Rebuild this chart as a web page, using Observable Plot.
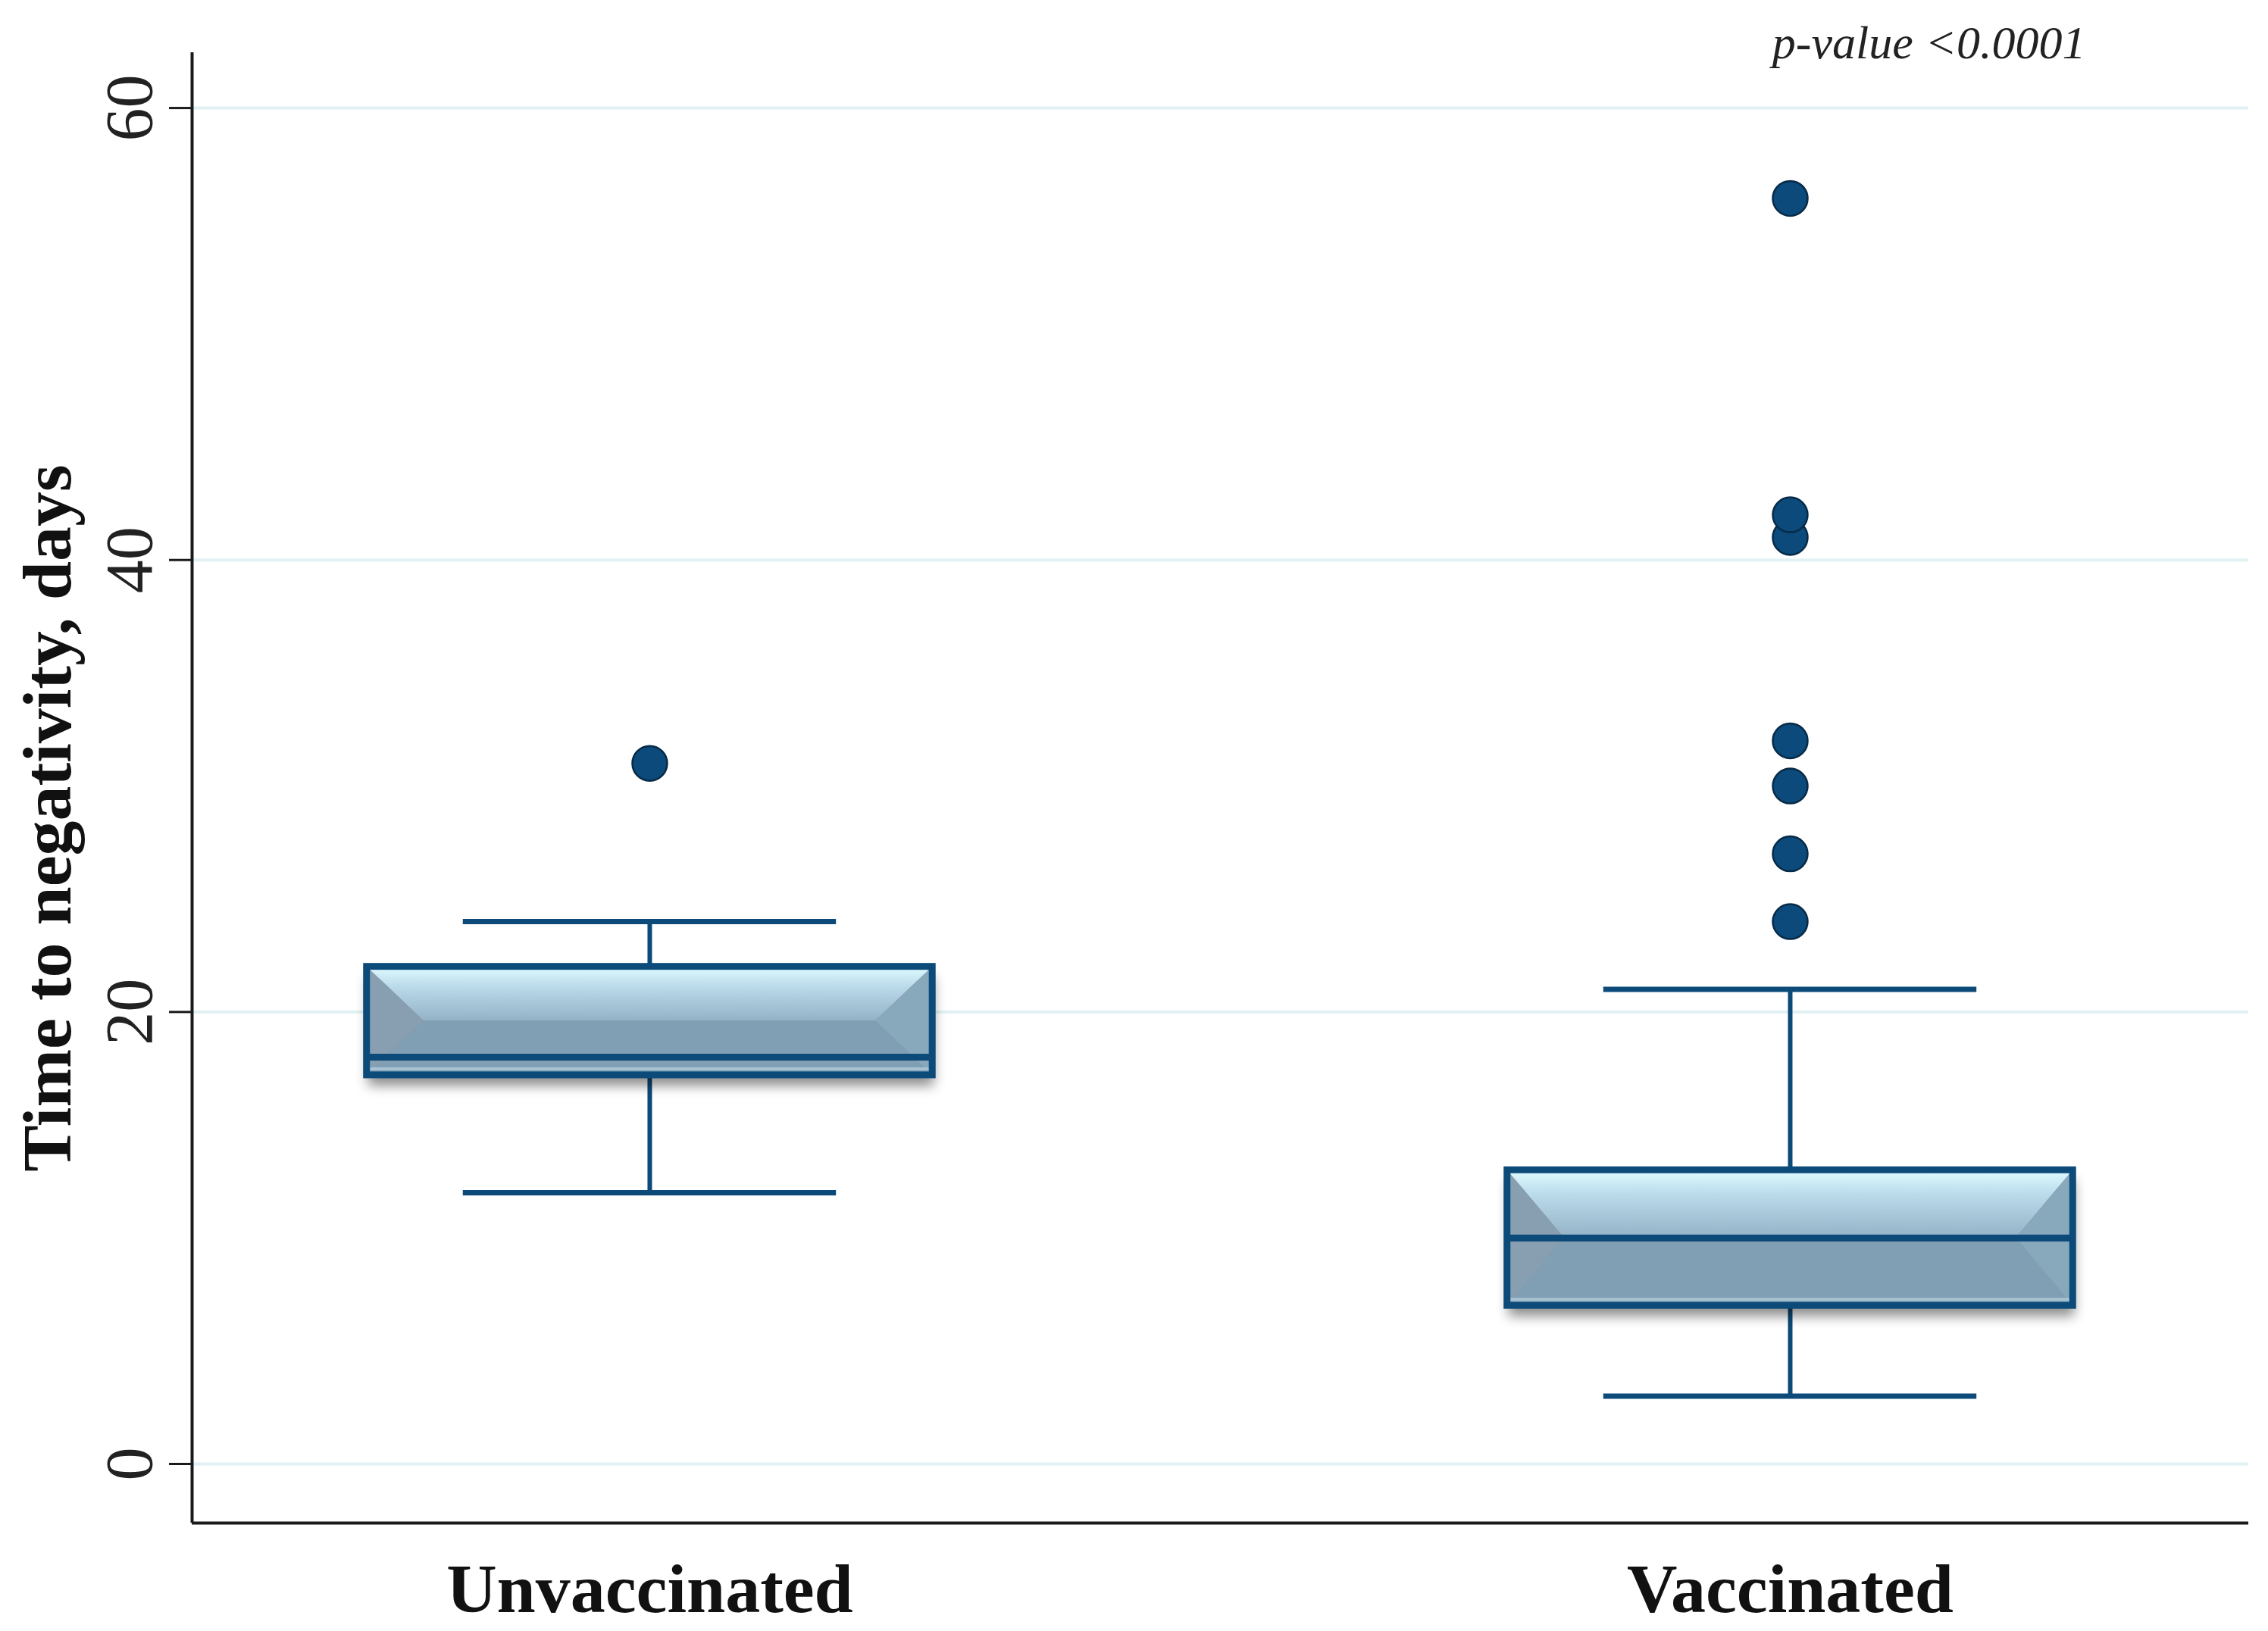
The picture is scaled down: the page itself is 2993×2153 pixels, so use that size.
<!DOCTYPE html>
<html>
<head>
<meta charset="utf-8">
<script src="https://cdn.jsdelivr.net/npm/d3@7"></script>
<script src="https://cdn.jsdelivr.net/npm/@observablehq/plot@0.6"></script>
<style>
  html, body { margin: 0; padding: 0; background: #ffffff; }
</style>
</head>
<body>
<div id="chart"></div>
<script>
// ---- data ----
const groups = ["Unvaccinated", "Vaccinated"];
const groupPos = [0, 1];
const lowerWhisker = [12, 3];
const q1 = [17.2, 7];
const median = [18, 10];
const q3 = [22, 13];
const upperWhisker = [24, 21];
const outlierGroup = [0, 1, 1, 1, 1, 1, 1, 1];
const outlierValue = [31, 24, 27, 30, 32, 41, 42, 56];
const yTicks = [0, 20, 40, 60];
const yLabel = "Time to negativity, days";
const pText = "p-value <0.0001";

// ---- layout / style constants ----
const W = 2993, H = 2153;
const xDomain = [-0.4013, 1.402];
const yDomain = [-2.615, 62.45];
const boxHalf = 0.248;
const capHalf = 0.1636;
const bevelInset = 75;
const dark = "#0c4a79";
const serif = "Liberation Serif, DejaVu Serif, serif";

const boxes = groups.map((g, i) => ({
  i: groupPos[i], lo: lowerWhisker[i], q1: q1[i], med: median[i], q3: q3[i], hi: upperWhisker[i]
}));
const outliers = outlierValue.map((v, k) => ({i: groupPos[outlierGroup[k]], v}));

// soft shadow + bevelled box faces, drawn through the plot's scales
function bevelFaces(index, scales) {
  const x = scales.x, y = scales.y;
  const g = d3.create("svg:g").attr("aria-label", "bevel");
  const sh = g.append("g").attr("filter", "url(#softShadow)");
  boxes.forEach(b => {
    const L = x(b.i - boxHalf), R = x(b.i + boxHalf);
    const T = y(b.q3), B = y(b.q1);
    sh.append("rect").attr("x", L + 2).attr("width", R - L)
      .attr("y", T + 14).attr("height", B - T)
      .attr("fill", "#000").attr("fill-opacity", 0.45);
  });
  boxes.forEach(b => {
    const L = x(b.i - boxHalf), R = x(b.i + boxHalf);
    const T = y(b.q3), B = y(b.q1), M = (T + B) / 2;
    const d = Math.min(bevelInset, (R - L) / 2);
    const poly = (pts, fill) => g.append("polygon")
      .attr("points", pts.map(p => p.join(",")).join(" "))
      .attr("fill", fill);
    poly([[L, B], [R, B], [R - d, M], [L + d, M]], "#809fb4");
    poly([[L, T], [R, T], [R - d, M], [L + d, M]], "url(#topFace)");
    poly([[L, T], [L + d, M], [L, B]], "#879fb1");
    poly([[R, T], [R - d, M], [R, B]], "#88a8bc");
    g.append("rect").attr("x", L).attr("width", R - L)
      .attr("y", B - 10).attr("height", 4).attr("fill", "#a6c2d3");
  });
  return g.node();
}

const svg = Plot.plot({
  width: W,
  height: H,
  marginLeft: 253,
  marginRight: 26,
  marginTop: 69,
  marginBottom: 143,
  style: {background: "#ffffff", fontFamily: serif, overflow: "visible"},
  x: {type: "linear", domain: xDomain, axis: null},
  y: {type: "linear", domain: yDomain, axis: null},
  marks: [
    // grid
    Plot.ruleY(yTicks, {stroke: "#e2f1f3", strokeWidth: 4}),
    // whiskers
    Plot.ruleX(boxes, {x: "i", y1: "q3", y2: "hi", stroke: dark, strokeWidth: 6}),
    Plot.ruleX(boxes, {x: "i", y1: "lo", y2: "q1", stroke: dark, strokeWidth: 6}),
    Plot.ruleY(boxes, {y: "hi", x1: d => d.i - capHalf, x2: d => d.i + capHalf, stroke: dark, strokeWidth: 7}),
    Plot.ruleY(boxes, {y: "lo", x1: d => d.i - capHalf, x2: d => d.i + capHalf, stroke: dark, strokeWidth: 7}),
    // shadow + faces
    bevelFaces,
    // outline
    Plot.rect(boxes, {x1: d => d.i - boxHalf, x2: d => d.i + boxHalf, y1: "q1", y2: "q3",
      fill: "none", stroke: dark, strokeWidth: 9}),
    // median
    Plot.ruleY(boxes, {y: "med", x1: d => d.i - boxHalf, x2: d => d.i + boxHalf, stroke: dark, strokeWidth: 9}),
    // outliers
    Plot.dot(outliers, {x: "i", y: "v", r: 23, fill: "#0b4a7a", stroke: "#072a47", strokeWidth: 2.5}),
    // axes lines
    Plot.ruleX([xDomain[0]], {stroke: "#1a1a1a", strokeWidth: 4}),
    Plot.ruleY([yDomain[0]], {stroke: "#1a1a1a", strokeWidth: 4}),
    Plot.axisY({ticks: yTicks, tickSize: 30, tickFormat: () => "", stroke: "#1a1a1a", strokeWidth: 3}),
    // y tick labels (rotated)
    Plot.text(yTicks, {y: d => d, text: d => String(d), frameAnchor: "left", dx: -82,
      rotate: -90, textAnchor: "middle", lineAnchor: "middle", fontSize: 88, fill: "#222"}),
    // x category labels
    Plot.text(groups, {x: (d, k) => groupPos[k], text: d => d, frameAnchor: "bottom", dy: 52,
      lineAnchor: "top", textAnchor: "middle", fontSize: 92, fontWeight: "bold", fill: "#111"}),
    // y axis title
    Plot.text([yLabel], {text: d => d, frameAnchor: "left", dx: -190, dy: 40, rotate: -90,
      textAnchor: "middle", lineAnchor: "middle", fontSize: 92, fontWeight: "bold", fill: "#111"}),
    // p-value
    Plot.text([pText], {text: d => d, frameAnchor: "top-right", dx: -215, dy: 7,
      textAnchor: "end", lineAnchor: "bottom", fontSize: 62, fontStyle: "italic", fill: "#222"})
  ]
});

const s = d3.select(svg);
s.insert("defs", ":first-child").html(`
  <linearGradient id="topFace" x1="0" y1="0" x2="0" y2="1">
    <stop offset="0" stop-color="#e0fcff"/>
    <stop offset="0.35" stop-color="#bcdcec"/>
    <stop offset="1" stop-color="#93b2c6"/>
  </linearGradient>
  <filter id="softShadow" x="-10%" y="-50%" width="120%" height="200%">
    <feGaussianBlur stdDeviation="8"/>
  </filter>`);

document.getElementById("chart").appendChild(svg);
</script>
</body>
</html>
